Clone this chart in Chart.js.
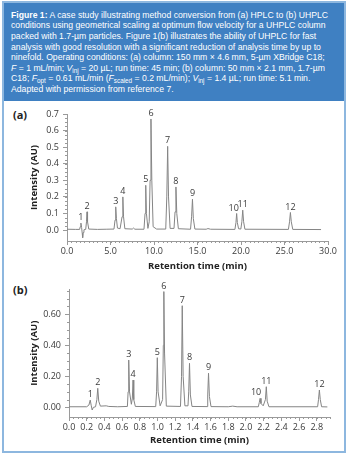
<!DOCTYPE html>
<html><head><meta charset="utf-8">
<script src="https://cdn.jsdelivr.net/npm/chart.js@4.4.1/dist/chart.umd.min.js"></script>
<style>
html,body{margin:0;padding:0;background:#fff;width:350px;height:456px;overflow:hidden;position:relative;}
#frame{position:absolute;left:2px;top:1px;width:340px;height:448px;border:2px solid #8db7df;background:#fff;}
#header{position:absolute;left:4px;top:3px;width:340px;height:98px;background:#3f80c2;}
.cap{position:absolute;left:11px;white-space:nowrap;color:#fff;font-family:"Liberation Sans",Arial,sans-serif;font-size:8.7px;line-height:10.6px;}
.cap sub{font-size:6.3px;vertical-align:-1.6px;line-height:0;}
.plabel{position:absolute;font-family:"Open Sans",sans-serif;font-weight:bold;font-size:11px;line-height:12px;color:#222;}
canvas{position:absolute;left:0;}
</style></head><body>
<div id="frame"></div>
<div id="header"></div>
<div class="cap" style="top:9.7px"><b>Figure 1:</b> A case study illustrating method conversion from (a) HPLC to (b) UHPLC</div>
<div class="cap" style="top:20.3px">conditions using geometrical scaling at optimum flow velocity for a UHPLC column</div>
<div class="cap" style="top:30.9px">packed with 1.7-µm particles. Figure 1(b) illustrates the ability of UHPLC for fast</div>
<div class="cap" style="top:41.5px">analysis with good resolution with a significant reduction of analysis time by up to</div>
<div class="cap" style="top:52.1px">ninefold. Operating conditions: (a) column: 150 mm × 4.6 mm, 5-µm XBridge C18;</div>
<div class="cap" style="top:62.7px"><i>F</i> = 1 mL/min; <i>V</i><sub>inj</sub> = 20 µL; run time: 45 min; (b) column: 50 mm × 2.1 mm, 1.7-µm</div>
<div class="cap" style="top:73.3px">C18; <i>F</i><sub>opt</sub> = 0.61 mL/min (<i>F</i><sub>scaled</sub> = 0.2 mL/min); <i>V</i><sub>inj</sub> = 1.4 µL; run time: 5.1 min.</div>
<div class="cap" style="top:83.9px">Adapted with permission from reference 7.</div>
<div class="plabel" style="left:13px;top:109px">(a)</div>
<div class="plabel" style="left:13px;top:284px">(b)</div>
<canvas id="cA" width="350" height="172" style="top:104px"></canvas>
<canvas id="cB" width="350" height="173" style="top:280px"></canvas>
<script>
// ---------- Panel (a): HPLC ----------
const timeA = [0,1.0,1.45,1.52,1.6,1.68,1.75,1.8,1.86,1.95,2.15,2.24,2.3,2.36,2.5,3.5,4.5,5.4,5.52,5.6,5.68,5.8,6.1,6.33,6.42,6.5,6.65,7.5,7.65,7.8,8.85,8.97,9.05,9.13,9.3,9.45,9.55,9.65,9.75,9.9,10.3,11.35,11.47,11.57,11.67,11.85,12.3,12.42,12.52,12.62,12.8,14.2,14.32,14.42,14.52,14.7,16.0,16.2,16.5,19.3,19.42,19.5,19.58,19.72,19.98,20.1,20.2,20.3,20.45,25.45,25.58,25.68,25.78,25.95,29.2];
const intensityA = [0.005,0.004,0.004,0.02,0.042,0.015,-0.02,-0.046,-0.015,0.002,0.004,0.05,0.11,0.05,0.006,0.004,0.005,0.006,0.06,0.14,0.07,0.012,0.008,0.08,0.2,0.08,0.008,0.006,0.012,0.005,0.005,0.1,0.27,0.1,0.01,0.05,0.3,0.67,0.3,0.02,0.006,0.006,0.2,0.505,0.2,0.01,0.01,0.11,0.26,0.1,0.008,0.005,0.08,0.186,0.07,0.006,0.005,0.009,0.005,0.004,0.045,0.1,0.045,0.008,0.006,0.05,0.12,0.05,0.005,0.004,0.05,0.106,0.05,0.004,0.003];
const peakTimeA = [1.6,2.3,5.6,6.42,9.05,9.65,11.57,12.52,14.42,19.5,20.2,25.68];
const peakHeightA = [0.042,0.11,0.14,0.2,0.27,0.67,0.505,0.26,0.186,0.1,0.12,0.106];
const peakLabelA = ['1','2','3','4','5','6','7','8','9','10','11','12'];
const xTicksA = [0,5,10,15,20,25,30];
const xLabelsA = ['0.0','5.0','10.0','15.0','20.0','25.0','30.0'];
const yTicksA = [0,0.1,0.2,0.3,0.4,0.5,0.6,0.7];
const yLabelsA = ['0.0','0.1','0.2','0.3','0.4','0.5','0.6','0.7'];

// ---------- Panel (b): UHPLC ----------
const timeB = [0,0.2,0.225,0.24,0.252,0.262,0.275,0.3,0.315,0.325,0.336,0.355,0.42,0.45,0.55,0.66,0.668,0.675,0.684,0.705,0.716,0.724,0.732,0.75,0.98,0.99,0.998,1.007,1.03,1.058,1.066,1.072,1.08,1.1,1.26,1.272,1.28,1.29,1.31,1.345,1.353,1.362,1.372,1.39,1.56,1.568,1.577,1.587,1.605,1.8,1.85,1.9,2.14,2.15,2.16,2.17,2.195,2.22,2.23,2.24,2.26,2.81,2.82,2.83,2.84,2.855,2.92];
const intensityB = [0.004,0.004,0.015,0.047,0.01,-0.017,0.0,0.004,0.05,0.123,0.04,0.008,0.01,0.006,0.004,0.006,0.1,0.305,0.1,0.02,0.06,0.176,0.05,0.006,0.005,0.1,0.32,0.1,0.01,0.05,0.4,0.746,0.35,0.008,0.006,0.2,0.655,0.2,0.01,0.01,0.1,0.284,0.08,0.006,0.005,0.08,0.22,0.07,0.005,0.004,0.008,0.004,0.004,0.03,0.058,0.025,0.01,0.05,0.133,0.04,0.004,0.004,0.05,0.112,0.05,0.004,0.003];
const peakTimeB = [0.24,0.325,0.675,0.724,0.998,1.072,1.28,1.362,1.577,2.16,2.23,2.83];
const peakHeightB = [0.047,0.123,0.305,0.176,0.32,0.746,0.655,0.284,0.22,0.058,0.133,0.112];
const peakLabelB = ['1','2','3','4','5','6','7','8','9','10','11','12'];
const xTicksB = [0,0.2,0.4,0.6,0.8,1.0,1.2,1.4,1.6,1.8,2.0,2.2,2.4,2.6,2.8];
const xLabelsB = ['0.0','0.2','0.4','0.6','0.8','1.0','1.2','1.4','1.6','1.8','2.0','2.2','2.4','2.6','2.8'];
const yTicksB = [0,0.2,0.4,0.6];
const yLabelsB = ['0.00','0.20','0.40','0.60'];

const AXIS = '#9a9a9a', TXT = '#3a3a3a', TRACE = '#858585';

const minorTicks = {
  id: 'minorTicks',
  afterDraw(chart, args, o) {
    const ctx = chart.ctx, xs = chart.scales.x, ys = chart.scales.y, ca = chart.chartArea;
    ctx.save(); ctx.strokeStyle = AXIS; ctx.lineWidth = 1;
    const n1 = Math.ceil(xs.min / o.xStep - 1e-6), n2 = Math.floor(xs.max / o.xStep + 1e-6);
    for (let i = n1; i <= n2; i++) {
      const px = Math.round(xs.getPixelForValue(i * o.xStep)) + 0.5;
      ctx.beginPath(); ctx.moveTo(px, ca.bottom); ctx.lineTo(px, ca.bottom + o.len); ctx.stroke();
    }
    const m1 = Math.ceil(ys.min / o.yStep - 1e-6), m2 = Math.floor(ys.max / o.yStep + 1e-6);
    for (let i = m1; i <= m2; i++) {
      if (i * o.yStep < -1e-9) continue;
      const py = Math.round(ys.getPixelForValue(i * o.yStep)) + 0.5;
      ctx.beginPath(); ctx.moveTo(ca.left, py); ctx.lineTo(ca.left - o.len, py); ctx.stroke();
    }
    ctx.restore();
  }
};

const peakLabels = {
  id: 'peakLabels',
  afterDatasetsDraw(chart, args, o) {
    const ctx = chart.ctx, xs = chart.scales.x, ys = chart.scales.y;
    ctx.save();
    ctx.font = '9px "Open Sans", sans-serif';
    ctx.fillStyle = TXT; ctx.textAlign = 'center'; ctx.textBaseline = 'bottom';
    o.times.forEach((t, i) => {
      const dx = (o.dx && o.dx[o.labels[i]]) || 0;
      ctx.fillText(o.labels[i], xs.getPixelForValue(t) + dx, ys.getPixelForValue(o.heights[i]) - 1);
    });
    ctx.restore();
  }
};

function makeChart(id, cfg) {
  const pts = cfg.time.map((t, i) => ({x: t, y: cfg.inten[i]}));
  return new Chart(document.getElementById(id), {
    type: 'line',
    data: {datasets: [{data: pts, borderColor: TRACE, borderWidth: 1, pointRadius: 0, tension: 0, fill: false}]},
    options: {
      responsive: false, animation: false, devicePixelRatio: 1,
      layout: {padding: {left: 0, right: cfg.padRight, top: cfg.padTop, bottom: 0}},
      plugins: {
        legend: {display: false}, tooltip: {enabled: false},
        minorTicks: {xStep: cfg.xMinor, yStep: cfg.yMinor, len: 2},
        peakLabels: {times: cfg.pt, heights: cfg.ph, labels: cfg.pl, dx: cfg.dx}
      },
      scales: {
        x: {
          type: 'linear', min: 0, max: cfg.xMax, position: 'bottom',
          border: {display: true, color: AXIS, width: 1},
          grid: {display: true, drawOnChartArea: false, drawTicks: true, tickLength: 4, tickColor: AXIS},
          ticks: {font: {family: 'Open Sans', size: 9}, color: TXT, padding: 1, autoSkip: false, maxRotation: 0,
                  callback: (v, i) => cfg.xl[i]},
          afterBuildTicks: s => { s.ticks = cfg.xt.map(v => ({value: v})); },
          afterFit: s => { s.height = cfg.xH; },
          title: {display: true, text: 'Retention time (min)', color: '#222',
                  font: {family: 'Open Sans', size: 9.5, weight: 'bold'}, padding: {top: 0, bottom: cfg.xTitlePad}}
        },
        y: {
          type: 'linear', min: cfg.yMin, max: cfg.yMax, position: 'left',
          border: {display: true, color: AXIS, width: 1},
          grid: {display: true, drawOnChartArea: false, drawTicks: true, tickLength: 4, tickColor: AXIS},
          ticks: {font: {family: 'Open Sans', size: 9}, color: TXT, padding: 4, autoSkip: false,
                  callback: (v, i) => cfg.yl[i]},
          afterBuildTicks: s => { s.ticks = cfg.yt.map(v => ({value: v})); },
          afterFit: s => { s.width = cfg.yW; },
          title: {display: true, text: 'Intensity (AU)', color: '#222',
                  font: {family: 'Open Sans', size: 9.5, weight: 'bold'}, padding: {top: 29, bottom: 0}}
        }
      }
    },
    plugins: [minorTicks, peakLabels]
  });
}

makeChart('cA', {time: timeA, inten: intensityA, pt: peakTimeA, ph: peakHeightA, pl: peakLabelA, dx: {'10': -3},
  xt: xTicksA, xl: xLabelsA, yt: yTicksA, yl: yLabelsA, xMax: 30, yMin: -0.066, yMax: 0.7,
  xMinor: 0.5, yMinor: 0.025, padRight: 22, padTop: 10, xH: 35, yW: 67, xTitlePad: 4});
makeChart('cB', {time: timeB, inten: intensityB, pt: peakTimeB, ph: peakHeightB, pl: peakLabelB, dx: {'10': -4},
  xt: xTicksB, xl: xLabelsB, yt: yTicksB, yl: yLabelsB, xMax: 2.95, yMin: -0.062, yMax: 0.76,
  xMinor: 0.05, yMinor: 0.05, padRight: 20, padTop: 9, xH: 36, yW: 69, xTitlePad: 7});

// fit caption font so the first line spans the width seen in the figure
(function(){
  const caps = document.querySelectorAll('.cap');
  const w = caps[0].getBoundingClientRect().width;
  const size = 8.7 * 317 / w;
  caps.forEach(c => { c.style.fontSize = size.toFixed(2) + 'px'; });
})();
</script>
</body></html>
